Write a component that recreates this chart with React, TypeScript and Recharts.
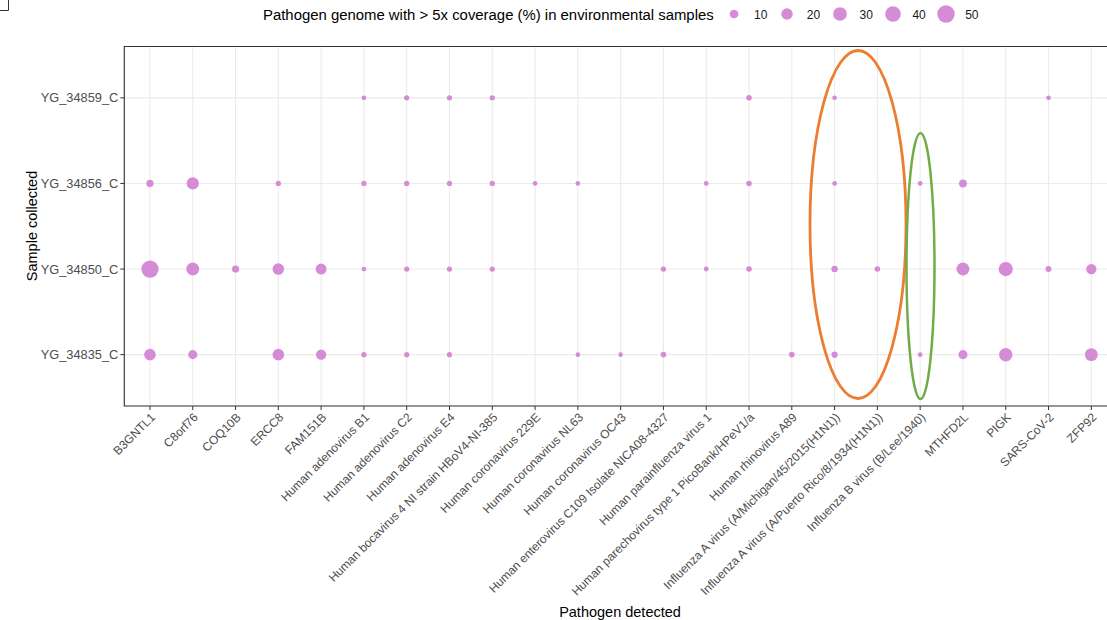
import {
  CartesianGrid,
  ReferenceArea,
  Scatter,
  ScatterChart,
  XAxis,
  YAxis,
  ZAxis,
} from "recharts";

// categories
const pathogens = [
  "B3GNTL1",
  "C8orf76",
  "COQ10B",
  "ERCC8",
  "FAM151B",
  "Human adenovirus B1",
  "Human adenovirus C2",
  "Human adenovirus E4",
  "Human bocavirus 4 NI strain HBoV4-NI-385",
  "Human coronavirus 229E",
  "Human coronavirus NL63",
  "Human coronavirus OC43",
  "Human enterovirus C109 Isolate NICA08-4327",
  "Human parainfluenza virus 1",
  "Human parechovirus type 1 PicoBank/HPeV1/a",
  "Human rhinovirus A89",
  "Influenza A virus (A/Michigan/45/2015(H1N1))",
  "Influenza A virus (A/Puerto Rico/8/1934(H1N1))",
  "Influenza B virus (B/Lee/1940)",
  "MTHFD2L",
  "PIGK",
  "SARS-CoV-2",
  "ZFP92",
];

// bottom -> top
const samples = ["YG_34835_C", "YG_34850_C", "YG_34856_C", "YG_34859_C"];

// % genome with >5x coverage, one value per pathogen (null = not detected)
const n = null;
const cov34835 = [22, 12, n, 22, 16.5, 1.5, 1.2, 1.2, n, n, 0.3, 0.3, 2, n, n, 2, 3.5, n, 0.3, 12, 31, n, 28];
const cov34850 = [54, 28, 6, 22, 19, 0.3, 1.5, 1.5, 1.5, n, n, n, 1.5, 0.6, 2, n, 3.9, 2, n, 28, 35, 2.8, 16.5];
const cov34856 = [6, 25, n, 1.5, n, 1.5, 1.5, 1.5, 1.5, 0.3, 0.3, n, n, 0.5, 2, n, 0.3, n, 0.3, 8, n, n, n];
const cov34859 = [n, n, n, n, n, 0.4, 1.5, 1.5, 1.5, n, n, n, n, n, 2, n, 0.3, n, n, n, n, 0.5, n];

const legendValues = [10, 20, 30, 40, 50];

const coverage = [cov34835, cov34850, cov34856, cov34859];

const points = coverage.flatMap((row, yi) =>
  row
    .map((v, xi) => (v == null ? null : { x: xi, y: yi, z: v }))
    .filter((p): p is { x: number; y: number; z: number } => p !== null)
);

const Z_DOMAIN: [number, number] = [0, 50];
const Z_RANGE: [number, number] = [16, 236]; // symbol area, px^2
const DOT = "#D68BD7";
const FONT = '"Liberation Sans", Arial, sans-serif';

// same linear area mapping as the ZAxis, for the legend keys
const legendR = (v: number) => {
  const area =
    Z_RANGE[0] + ((v - Z_DOMAIN[0]) / (Z_DOMAIN[1] - Z_DOMAIN[0])) * (Z_RANGE[1] - Z_RANGE[0]);
  return Math.sqrt(area / Math.PI);
};

const XTick = (props: any) => {
  const { x, y, payload } = props;
  return (
    <g transform={`translate(${x + 6},${y + 6})`}>
      <text textAnchor="end" transform="rotate(-45)" fontSize={12} fill="#4D4D4D">
        {pathogens[payload.value]}
      </text>
    </g>
  );
};

export default function App() {
  return (
    <div
      style={{
        position: "absolute",
        left: 0,
        top: 0,
        width: 1107,
        height: 620,
        overflow: "hidden",
        background: "#fff",
        fontFamily: FONT,
      }}
    >
      <ScatterChart
        width={1130}
        height={620}
        margin={{ top: 46.5, right: 13, bottom: 0, left: 0.3 }}
      >
        <CartesianGrid stroke="#EBEBEB" strokeWidth={1.1} />
        <XAxis
          type="number"
          dataKey="x"
          domain={[-0.6, 22.6]}
          ticks={pathogens.map((_, i) => i)}
          interval={0}
          allowDataOverflow
          height={214}
          axisLine={false}
          tickSize={4}
          tickMargin={2}
          tickLine={{ stroke: "#333" }}
          tick={<XTick />}
        />
        <YAxis
          type="number"
          dataKey="y"
          domain={[-0.6, 3.6]}
          ticks={[0, 1, 2, 3]}
          interval={0}
          allowDataOverflow
          width={124}
          axisLine={false}
          tickSize={4}
          tickMargin={2}
          tickLine={{ stroke: "#333" }}
          tick={{ fill: "#4D4D4D", fontSize: 12.8 }}
          tickFormatter={(v: number) => samples[v] ?? ""}
        />
        <ZAxis type="number" dataKey="z" domain={Z_DOMAIN} range={Z_RANGE} />
        <ReferenceArea
          x1={-0.6}
          x2={22.6}
          y1={-0.6}
          y2={3.6}
          fill="none"
          stroke="#333"
          strokeWidth={1.1}
        />
        <Scatter data={points} fill={DOT} isAnimationActive={false} />
      </ScatterChart>

      {/* annotations, legend and axis titles */}
      <svg
        width={1107}
        height={620}
        style={{ position: "absolute", left: 0, top: 0, pointerEvents: "none" }}
      >
        <path d="M0 10.5 H8.5 V0" fill="none" stroke="#333" strokeWidth={1} />

        <text x={263} y={20} fontSize={14.9} fill="#000">
          Pathogen genome with &gt; 5x coverage (%) in environmental samples
        </text>
        {legendValues.map((v, i) => (
          <g key={v}>
            <circle cx={734 + i * 53} cy={14} r={legendR(v)} fill={DOT} />
            <text x={754 + i * 52.8} y={18.5} fontSize={12} fill="#1A1A1A">
              {v}
            </text>
          </g>
        ))}

        <text
          transform="translate(37,226) rotate(-90)"
          textAnchor="middle"
          fontSize={14.5}
          fill="#000"
        >
          Sample collected
        </text>
        <text x={620} y={617} textAnchor="middle" fontSize={14.5} fill="#000">
          Pathogen detected
        </text>

        <ellipse cx={858} cy={224.5} rx={48} ry={174} fill="none" stroke="#ED7D31" strokeWidth={2.8} />
        <ellipse cx={920.5} cy={266} rx={14} ry={133} fill="none" stroke="#70AD47" strokeWidth={2.5} />
      </svg>
    </div>
  );
}
